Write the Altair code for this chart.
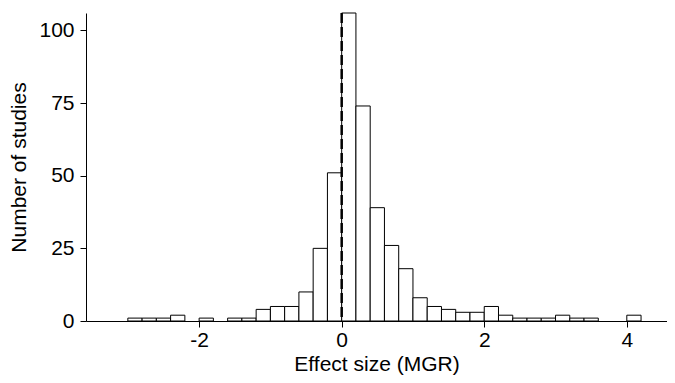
import altair as alt
import pandas as pd

bin_start = [-3.0, -2.8, -2.6, -2.4, -2.0, -1.6, -1.4, -1.2, -1.0, -0.8, -0.6, -0.4, -0.2,
             0.0, 0.2, 0.4, 0.6, 0.8, 1.0, 1.2, 1.4, 1.6, 1.8, 2.0, 2.2, 2.4, 2.6, 2.8,
             3.0, 3.2, 3.4, 4.0]
counts = [1, 1, 1, 2, 1, 1, 1, 4, 5, 5, 10, 25, 51,
          106, 74, 39, 26, 18, 8, 5, 4, 3, 3, 5, 2, 1, 1, 1,
          2, 1, 1, 2]
bin_width = 0.2
ref_x = [0]

df = pd.DataFrame({"start": bin_start, "count": counts})
df["end"] = df["start"] + bin_width
df["base"] = 0

xscale = alt.Scale(domain=[-3.587, 4.564], nice=False, zero=False)
yscale = alt.Scale(domain=[0, 106], nice=False)

bars = alt.Chart(df).mark_bar(
    fill="white", stroke="black", strokeWidth=1
).encode(
    x=alt.X("start:Q", scale=xscale,
            axis=alt.Axis(title="Effect size (MGR)", values=[-2, 0, 2, 4],
                          labelExpr="'' + datum.value",
                          grid=False, tickSize=6, labelPadding=2, titlePadding=3)),
    x2="end:Q",
    y=alt.Y("count:Q", scale=yscale,
            axis=alt.Axis(title="Number of studies", values=[0, 25, 50, 75, 100],
                          labelExpr="'' + datum.value",
                          grid=False, tickSize=6, labelPadding=6, titlePadding=9)),
    y2="base:Q",
)

rule = alt.Chart(pd.DataFrame({"x": ref_x})).mark_rule(
    color="black", strokeWidth=2.5, strokeDash=[10, 4]
).encode(x=alt.X("x:Q", scale=xscale))

chart = alt.layer(bars, rule).properties(
    width=581, height=308,
    autosize=alt.AutoSizeParams(type="none"),
    padding={"left": 78, "top": 5, "right": 0, "bottom": 54},
).configure_view(stroke=None).configure_axis(
    domainColor="black", tickColor="black", labelColor="black", titleColor="black",
    labelFont="Liberation Sans", titleFont="Liberation Sans",
    labelFontSize=21, titleFontSize=21, titleFontWeight="normal",
    domainWidth=1, tickWidth=1,
)

chart.save("out.html", embed_options={"renderer": "svg", "actions": False})
